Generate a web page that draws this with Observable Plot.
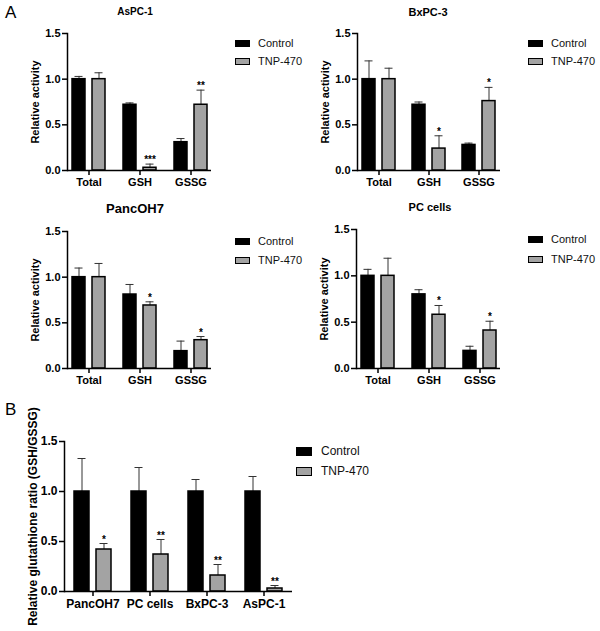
<!DOCTYPE html>
<html><head><meta charset="utf-8">
<script src="https://cdn.jsdelivr.net/npm/d3@7"></script>
<script src="https://cdn.jsdelivr.net/npm/@observablehq/plot@0.6"></script>
<style>
body{margin:0;background:#fff;font-family:"Liberation Sans",Arial,sans-serif;}
#root{position:relative;width:600px;height:631px;overflow:hidden;background:#fff;}
.abs{position:absolute;white-space:nowrap;}
.ttl{font-weight:bold;transform:translateX(-50%);color:#000;}
.sq{position:absolute;box-sizing:border-box;border:1.5px solid #000;}
</style></head>
<body><div id="root"></div>
<script>
// ---- data ----
const groupsA = ["Total", "GSH", "GSSG"];
const seriesNames = ["Control", "TNP-470"];
const yTicks = [0, 0.5, 1.0, 1.5];

const aspcCtrl = [1.0, 0.72, 0.31];
const aspcCtrlErr = [0.03, 0.02, 0.04];
const aspcTnp = [1.0, 0.03, 0.72];
const aspcTnpErr = [0.07, 0.04, 0.16];
const aspcStars = ["", "***", "**"];

const bxpcCtrl = [1.0, 0.72, 0.28];
const bxpcCtrlErr = [0.20, 0.03, 0.02];
const bxpcTnp = [1.0, 0.24, 0.76];
const bxpcTnpErr = [0.12, 0.14, 0.15];
const bxpcStars = ["", "*", "*"];

const pancCtrl = [1.0, 0.81, 0.19];
const pancCtrlErr = [0.10, 0.11, 0.11];
const pancTnp = [1.0, 0.69, 0.31];
const pancTnpErr = [0.15, 0.04, 0.04];
const pancStars = ["", "*", "*"];

const pcCtrl = [1.0, 0.80, 0.19];
const pcCtrlErr = [0.07, 0.05, 0.05];
const pcTnp = [1.0, 0.58, 0.41];
const pcTnpErr = [0.19, 0.10, 0.10];
const pcStars = ["", "*", "*"];

const groupsB = ["PancOH7", "PC cells", "BxPC-3", "AsPC-1"];
const ratioCtrl = [1.0, 1.0, 1.0, 1.0];
const ratioCtrlErr = [0.33, 0.24, 0.12, 0.15];
const ratioTnp = [0.42, 0.37, 0.16, 0.03];
const ratioTnpErr = [0.06, 0.15, 0.11, 0.03];
const ratioStars = ["*", "**", "**", "**"];

const colors = {"Control": "#000000", "TNP-470": "#a3a3a3"};

// ---- drawing ----
const root = document.getElementById("root");

function rowsOf(groups, vals, errs, stars) {
  return groups.map((g, i) => ({group: g, value: vals[i], err: errs[i], star: stars ? stars[i] : ""}));
}

function panel(o) {
  const ctrlRows = rowsOf(o.groups, o.ctrl, o.ctrlErr, null);
  const tnpRows = rowsOf(o.groups, o.tnp, o.tnpErr, o.stars);
  const ser = (rows, fill, sign) => [
    Plot.ruleX(rows, {x: "group", y1: "value", y2: d => d.value + d.err, dx: sign * o.dx, stroke: "#333", strokeWidth: 1}),
    Plot.tickY(rows, {x: "group", y: d => d.value + d.err, dx: sign * o.dx, insetLeft: o.capInset, insetRight: o.capInset, stroke: "#333", strokeWidth: 1}),
    Plot.barY(rows, {x: "group", y: "value", dx: sign * o.dx, fill, stroke: "#000", strokeWidth: 1.5})
  ];
  const svg = Plot.plot({
    width: o.width, height: o.height,
    marginLeft: o.mL, marginRight: o.mR, marginTop: o.mT, marginBottom: o.mB,
    style: {fontFamily: "'Liberation Sans', Arial, sans-serif", fontSize: o.fs + "px", fontWeight: "bold", color: "#000", background: "transparent", overflow: "visible"},
    x: {type: "band", domain: o.groups, paddingInner: o.pi, paddingOuter: o.po},
    y: {domain: [0, 1.5]},
    marks: [
      ...ser(ctrlRows, colors["Control"], -1),
      ...ser(tnpRows, colors["TNP-470"], 1),
      Plot.text(tnpRows, {x: "group", y: d => d.value + d.err, text: "star", dx: o.dx, dy: -1, lineAnchor: "bottom", fontSize: 10, fill: "#000"}),
      Plot.ruleY([0], {stroke: "#000", strokeWidth: 1.5}),
      Plot.frame({anchor: "left", stroke: "#000", strokeWidth: 1.5}),
      Plot.axisY({ticks: yTicks, tickFormat: d3.format(".1f"), tickSize: 5, tickPadding: 2, strokeWidth: 1.5,
        label: o.yLabel, labelAnchor: "center", labelOffset: o.labelOffset, labelArrow: "none"}),
      Plot.axisX({tickSize: 5, tickPadding: 3, strokeWidth: 1.5, label: null})
    ]
  });
  svg.style.position = "absolute";
  svg.style.left = o.left + "px";
  svg.style.top = o.top + "px";
  root.appendChild(svg);
}

function addText(txt, x, y, fs, cls, extra) {
  const d = document.createElement("div");
  d.className = "abs " + (cls || "");
  d.textContent = txt;
  d.style.left = x + "px";
  d.style.top = (y - fs / 2) + "px";
  d.style.fontSize = fs + "px";
  d.style.lineHeight = fs + "px";
  if (extra) Object.assign(d.style, extra);
  root.appendChild(d);
}

function legend(x, y, gap, w, h, tx, fs) {
  seriesNames.forEach((s, i) => {
    const sq = document.createElement("div");
    sq.className = "sq";
    sq.style.left = x + "px";
    sq.style.top = (y + i * gap - h / 2) + "px";
    sq.style.width = w + "px";
    sq.style.height = h + "px";
    sq.style.background = colors[s];
    root.appendChild(sq);
    addText(s, tx, y + i * gap, fs, "", {color: "#111"});
  });
}

const commonA = {groups: groupsA, pi: 0.75, po: 0.28, dx: 10, capInset: 2.5, fs: 11, yLabel: "Relative activity", labelOffset: 36};

panel({...commonA, ctrl: aspcCtrl, ctrlErr: aspcCtrlErr, tnp: aspcTnp, tnpErr: aspcTnpErr, stars: aspcStars,
  left: 0, top: 0, width: 300, height: 195, mL: 67, mR: 89, mT: 33, mB: 25});
panel({...commonA, ctrl: bxpcCtrl, ctrlErr: bxpcCtrlErr, tnp: bxpcTnp, tnpErr: bxpcTnpErr, stars: bxpcStars,
  left: 300, top: 0, width: 300, height: 195, mL: 57, mR: 100, mT: 33, mB: 25});
panel({...commonA, ctrl: pancCtrl, ctrlErr: pancCtrlErr, tnp: pancTnp, tnpErr: pancTnpErr, stars: pancStars,
  left: 0, top: 195, width: 300, height: 200, mL: 67, mR: 89, mT: 36, mB: 27});
panel({...commonA, ctrl: pcCtrl, ctrlErr: pcCtrlErr, tnp: pcTnp, tnpErr: pcTnpErr, stars: pcStars,
  left: 300, top: 195, width: 300, height: 200, mL: 56, mR: 100, mT: 34, mB: 27});
panel({groups: groupsB, ctrl: ratioCtrl, ctrlErr: ratioCtrlErr, tnp: ratioTnp, tnpErr: ratioTnpErr, stars: ratioStars,
  pi: 0.74, po: 0.344, dx: 11, capInset: 3.5, fs: 12, yLabel: "Relative glutathione ratio (GSH/GSSG)", labelOffset: 36,
  left: 0, top: 395, width: 300, height: 236, mL: 64, mR: 8, mT: 46, mB: 40});

// titles and panel letters
addText("A", 5, 12, 17, "");
addText("B", 5, 409, 17, "");
addText("AsPC-1", 135, 12, 10, "ttl");
addText("BxPC-3", 428, 12, 11, "ttl");
addText("PancOH7", 135, 208, 13, "ttl");
addText("PC cells", 430, 207, 11, "ttl");

// legends
legend(235, 43, 18, 15, 7, 258, 11);
legend(528, 43, 18, 15, 7, 551, 11);
legend(235, 241, 19, 15, 7, 258, 11);
legend(528, 239, 20, 15, 7, 551, 11);
legend(296, 451, 20, 16, 9, 321, 12);
</script>
</body></html>
